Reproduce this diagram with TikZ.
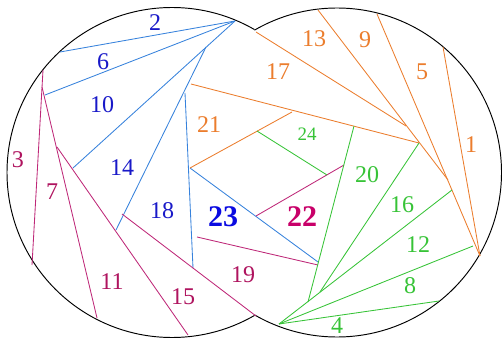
\documentclass[tikz,border=0pt]{standalone}
\usepackage{fontspec}
\setmainfont{Liberation Serif}
\definecolor{bline}{RGB}{55,130,220}
\definecolor{btxt}{RGB}{25,25,200}
\definecolor{bbold}{RGB}{10,10,225}
\definecolor{oline}{RGB}{235,125,45}
\definecolor{gline}{RGB}{55,195,55}
\definecolor{mline}{RGB}{190,40,120}
\definecolor{mtxt}{RGB}{175,20,95}
\definecolor{mbold}{RGB}{200,0,105}
\tikzset{
  outline/.style={draw=black, line width=0.95pt},
  bl/.style={draw=bline, line width=0.85pt},
  ol/.style={draw=oline, line width=0.85pt},
  gl/.style={draw=gline, line width=0.85pt},
  ml/.style={draw=mline, line width=0.85pt},
  lbl/.style={inner sep=0pt, font=\fontsize{24}{26}\selectfont},
  sml/.style={inner sep=0pt, font=\fontsize{19}{21}\selectfont},
  bld/.style={inner sep=0pt, font=\fontsize{30}{32}\selectfont\bfseries}
}
\begin{document}
\begin{tikzpicture}[x=1pt,y=-1pt]
\useasboundingbox (0,0) rectangle (503,339);
% outline: union of two circles
\begin{scope}
  \clip (-5,-5) rectangle (254.5,345);
  \draw[outline] (172,172.5) circle[radius=165pt];
\end{scope}
\begin{scope}
  \clip (254.5,-5) rectangle (510,345);
  \draw[outline] (337,172.5) circle[radius=164.5pt];
\end{scope}
% key points
\coordinate (bA) at (235,21);
\coordinate (oA) at (480,256);
\coordinate (gA) at (279,324);
% blue
\draw[bl] (60,52) -- (bA);
\draw[bl] (45,95) -- (bA);
\draw[bl] (73,168) -- (bA);
\draw[bl] (206,47) -- (116,230);
\draw[bl] (185,93) -- (193,268);
\draw[bl] (190,168) -- (318,262);
% magenta
\draw[ml] (43,70) -- (32,265);
\draw[ml] (42,87) -- (97,318);
\draw[ml] (57,147) -- (188,335);
\draw[ml] (122,214) -- (256,316);
\draw[ml] (197,237) -- (318,265);
\draw[ml] (256,216) -- (344,165);
% orange
\draw[ol] (443,47) -- (oA);
\draw[ol] (377,14) -- (oA);
\draw[ol] (318,10) -- (448,180);
\draw[ol] (256,32) -- (406,126);
\draw[ol] (191,84) -- (419,143);
\draw[ol] (190,168) -- (292,112);
% green
\draw[gl] (439,301) -- (gA);
\draw[gl] (473,246) -- (gA);
\draw[gl] (452,190) -- (gA);
\draw[gl] (419,143) -- (320,292);
\draw[gl] (354,126) -- (308,302);
\draw[gl] (257,131) -- (327,175);
% labels blue
\node[lbl, text=btxt] (t2) at (155,23) {2};
\node[lbl, text=btxt] (t6) at (103,62) {6};
\node[lbl, text=btxt] (t10) at (102,105) {10};
\node[lbl, text=btxt] (t14) at (122,168) {14};
\node[lbl, text=btxt] (t18) at (162,211) {18};
\node[bld, text=bbold] (t23) at (223,217) {23};
% labels magenta
\node[lbl, text=mtxt] (t3) at (18,160) {3};
\node[lbl, text=mtxt] (t7) at (52,192) {7};
\node[lbl, text=mtxt] (t11) at (112,282) {11};
\node[lbl, text=mtxt] (t15) at (183,297) {15};
\node[lbl, text=mtxt] (t19) at (243,275) {19};
\node[bld, text=mbold] (t22) at (302,217) {22};
% labels orange
\node[lbl, text=oline] (t1) at (471,145) {1};
\node[lbl, text=oline] (t5) at (422,72) {5};
\node[lbl, text=oline] (t9) at (365,40) {9};
\node[lbl, text=oline] (t13) at (314,39) {13};
\node[lbl, text=oline] (t17) at (278,72) {17};
\node[lbl, text=oline] (t21) at (209,125) {21};
% labels green
\node[sml, text=gline] (t24) at (307,134) {24};
\node[lbl, text=gline] (t20) at (367,175) {20};
\node[lbl, text=gline] (t16) at (402,205) {16};
\node[lbl, text=gline] (t12) at (418,245) {12};
\node[lbl, text=gline] (t8) at (410,286) {8};
\node[lbl, text=gline] (t4) at (337,326) {4};
\end{tikzpicture}
\end{document}
